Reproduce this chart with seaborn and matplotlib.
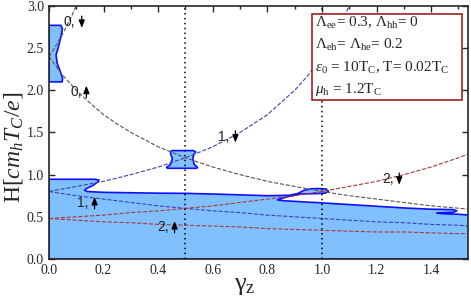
import numpy as np
import pandas as pd
import matplotlib
matplotlib.use("Agg")
import matplotlib.pyplot as plt
from matplotlib.patches import Rectangle
import seaborn as sns

# dashed level curves, (gamma_z, H)
g_0dn = [0, 0.02, 0.04, 0.06, 0.08, 0.10]
h_0dn = [2.40, 2.50, 2.61, 2.73, 2.86, 3.00]
g_0up = [0, 0.025, 0.05, 0.075, 0.1, 0.15, 0.2, 0.25, 0.3, 0.4, 0.5, 0.6, 0.7,
         0.8, 0.9, 1.0, 1.1, 1.2, 1.3, 1.4, 1.54]
h_0up = [2.40, 2.29, 2.18, 2.09, 2.00, 1.85, 1.71, 1.60, 1.50, 1.33, 1.20, 1.09,
         1.00, 0.92, 0.86, 0.80, 0.75, 0.71, 0.67, 0.63, 0.59]
g_1dn = [0, 0.1, 0.2, 0.3, 0.4, 0.5, 0.6, 0.7, 0.8, 0.9, 0.95, 1.0, 1.05, 1.1]
h_1dn = [0.80, 0.86, 0.92, 1.00, 1.09, 1.20, 1.33, 1.50, 1.71, 2.00, 2.18, 2.40,
         2.67, 3.00]
g_full = [0, 0.1, 0.2, 0.3, 0.4, 0.5, 0.6, 0.7, 0.8, 0.9, 1.0, 1.1, 1.2, 1.3,
          1.4, 1.5, 1.54]
h_1up = [0.80, 0.75, 0.71, 0.67, 0.63, 0.60, 0.57, 0.55, 0.52, 0.50, 0.48, 0.46,
         0.44, 0.43, 0.41, 0.40, 0.39]
h_2up = [0.48, 0.46, 0.44, 0.43, 0.41, 0.40, 0.39, 0.38, 0.36, 0.35, 0.34, 0.33,
         0.32, 0.32, 0.31, 0.30, 0.30]
h_2dn = [0.48, 0.50, 0.52, 0.55, 0.57, 0.60, 0.63, 0.67, 0.71, 0.75, 0.80, 0.86,
         0.92, 1.00, 1.09, 1.20, 1.25]

# superconducting regions (outlines)
main_x = [0, 0.17, 0.183, 0.18, 0.16, 0.135, 0.13, 0.14, 0.2, 0.3, 0.4, 0.5, 0.6,
          0.7, 0.8, 0.88, 0.91, 0.935, 0.96, 0.99, 1.015, 1.025, 1.01, 0.98, 0.92,
          0.87, 0.835, 0.86, 0.9, 1.0, 1.1, 1.2, 1.3, 1.4, 1.48, 1.495, 1.48,
          1.44, 1.42, 1.44, 1.5, 1.54, 1.54, 0]
main_y = [0.945, 0.945, 0.935, 0.915, 0.87, 0.83, 0.815, 0.80, 0.79, 0.785, 0.78,
          0.778, 0.77, 0.76, 0.75, 0.755, 0.775, 0.815, 0.832, 0.835, 0.83, 0.80,
          0.78, 0.775, 0.77, 0.735, 0.70, 0.69, 0.683, 0.665, 0.645, 0.625, 0.605,
          0.59, 0.585, 0.57, 0.553, 0.548, 0.545, 0.537, 0.53, 0.52, 0, 0]
top_x = [0, 0.044, 0.049, 0.045, 0.035, 0.026, 0.03, 0.042, 0.05, 0.048, 0]
top_y = [2.77, 2.77, 2.73, 2.65, 2.52, 2.42, 2.32, 2.22, 2.14, 2.10, 2.10]
mid_x = [0.45, 0.53, 0.537, 0.53, 0.527, 0.532, 0.545, 0.54, 0.435, 0.43, 0.445,
         0.452, 0.446, 0.445]
mid_y = [1.285, 1.285, 1.27, 1.23, 1.19, 1.12, 1.085, 1.075, 1.075, 1.085, 1.12,
         1.19, 1.24, 1.27]

labels = ["0,", "0,", "1,", "1,", "2,", "2,"]
label_x = [0.055, 0.077, 0.62, 0.103, 0.396, 1.22]
label_y = [2.81, 1.985, 1.45, 0.665, 0.38, 0.95]
arrow_x = [0.12, 0.137, 0.683, 0.167, 0.46, 1.283]
arrow_dir = [-1, 1, -1, 1, 1, -1]

box_lines = [r"$\Lambda_{\mathrm{ee}}$= 0.3, $\Lambda_{\mathrm{hh}}$= 0",
             r"$\Lambda_{\mathrm{eh}}$= $\Lambda_{\mathrm{he}}$= 0.2",
             r"$\varepsilon_0$ = 10T$_\mathrm{C}$, T= 0.02T$_\mathrm{C}$",
             r"$\mu_\mathrm{h}$ = 1.2T$_\mathrm{C}$"]

sns.set_style("ticks")
plt.rcParams['font.family'] = ['Liberation Serif', 'DejaVu Serif']
plt.rcParams['mathtext.fontset'] = 'custom'
plt.rcParams['mathtext.rm'] = 'Liberation Serif'
plt.rcParams['mathtext.it'] = 'Liberation Serif:italic'
plt.rcParams['xtick.direction'] = 'in'
plt.rcParams['ytick.direction'] = 'in'

fig = plt.figure(figsize=(4.71, 2.98), dpi=100)
ax = fig.add_axes([0.104, 0.131, 0.8896, 0.849])

fill_c = "#80c0ff"
edge_c = "#1010ff"
for xs, ys in [(main_x, main_y), (top_x, top_y), (mid_x, mid_y)]:
    ax.fill(xs, ys, facecolor=fill_c, edgecolor=edge_c, lw=1.2, zorder=1)

curves = [(g_0dn, h_0dn, "#555555"), (g_0up, h_0up, "#555555"),
          (g_1dn, h_1dn, "#4040b0"), (g_full, h_1up, "#4040b0"),
          (g_full, h_2up, "#a83838"), (g_full, h_2dn, "#a83838")]
for gx, hy, c in curves:
    df = pd.DataFrame({"g": gx, "h": hy})
    sns.lineplot(data=df, x="g", y="h", ax=ax, color=c, lw=0.8,
                 dashes=(4, 3), linestyle="--", zorder=2)

ax.axvline(0.5, color="k", ls=(0, (1, 2.2)), lw=1.1, zorder=3)
ax.axvline(1.0, color="k", ls=(0, (1, 2.2)), lw=1.1, zorder=3)

for t, x, y, ax_x, d in zip(labels, label_x, label_y, arrow_x, arrow_dir):
    ax.text(x, y, t, fontsize=10, va="center", ha="left",
            family=["Liberation Sans", "DejaVu Sans"], zorder=4)
    ax.annotate("", xy=(ax_x, y + d * 0.07), xytext=(ax_x, y - d * 0.07),
                arrowprops=dict(arrowstyle="-|>,head_length=0.45,head_width=0.18",
                                color="k", lw=0.9, shrinkA=0, shrinkB=0),
                zorder=4)

ax.add_patch(Rectangle((0.627, 0.628), 0.359, 0.34, transform=ax.transAxes,
                       facecolor="white", edgecolor="#a02020", lw=1.2, zorder=5))
for t, y in zip(box_lines, [0.933, 0.846, 0.755, 0.668]):
    ax.text(0.635, y, t, transform=ax.transAxes, fontsize=11, va="center",
            ha="left", zorder=6)

ax.set_xlim(0, 1.535)
ax.set_ylim(0, 3.0)
ax.set_xticks(np.arange(0, 1.41, 0.2))
ax.set_xticks(np.arange(0, 1.55, 0.1), minor=True)
ax.set_yticks(np.arange(0, 3.01, 0.5))
ax.xaxis.set_major_formatter(matplotlib.ticker.FormatStrFormatter("%.1f"))
ax.yaxis.set_major_formatter(matplotlib.ticker.FormatStrFormatter("%.1f"))
ax.tick_params(which="both", top=True, right=True, labelsize=10, width=1)
ax.tick_params(which="major", length=4)
ax.tick_params(which="minor", length=2)
for s in ax.spines.values():
    s.set_linewidth(1.2)
    s.set_zorder(7)

ax.set_xlabel(r"γ$_\mathrm{z}$", fontsize=19)
ax.xaxis.set_label_coords(0.468, -0.065)
ax.set_ylabel(r"H$[cm_hT_C/e]$", fontsize=17)
ax.yaxis.set_label_coords(-0.058, 0.44)

fig.savefig("out.png", dpi=100)
